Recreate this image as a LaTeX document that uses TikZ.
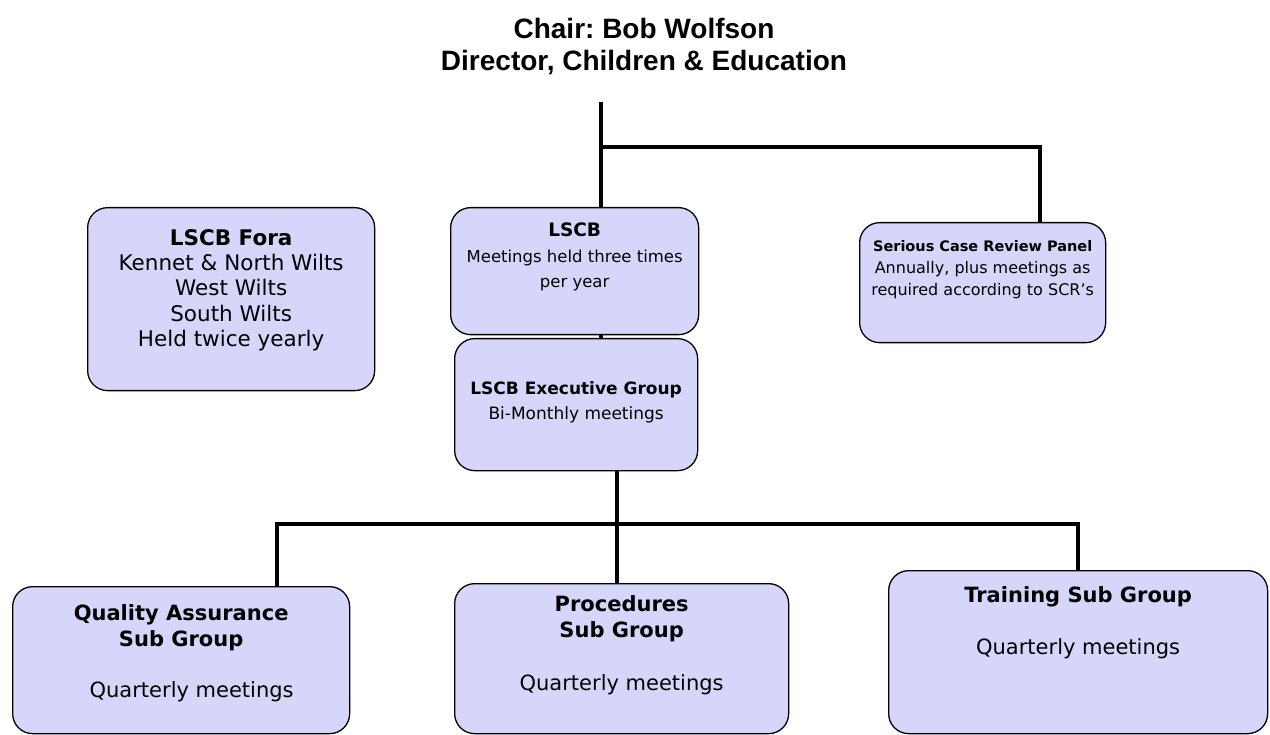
\documentclass[tikz,border=0pt]{standalone}
\usepackage{fontspec}
\setmainfont{DejaVu Sans}
\newfontfamily\titlefont{Liberation Sans}
\definecolor{boxfill}{RGB}{214,214,250}
\frenchspacing
\begin{document}
\begin{tikzpicture}[x=1pt, y=-1pt,
    grp/.style={draw, fill=boxfill, line width=1.3pt, rounded corners=20pt, inner sep=0pt, anchor=north west},
    txt/.style={align=center, inner sep=0pt, anchor=north},
    link/.style={line width=4.8pt}]
    \useasboundingbox (0,0) rectangle (1270,735);

    % Titulo
    \node (title) [align=center, font=\titlefont\bfseries\fontsize{28}{32}\selectfont] at (644,47)
    {Chair: Bob Wolfson\\Director, Children \& Education};

    % Cajas
    \node (fora) [grp, minimum width=287pt, minimum height=183pt] at (87,207) {};
    \node (lscb) [grp, minimum width=248pt, minimum height=127pt] at (450,207) {};
    \node (scr) [grp, minimum width=246pt, minimum height=120pt] at (859,222) {};
    \node (exec) [grp, minimum width=243pt, minimum height=132pt] at (454,338) {};
    \node (qa) [grp, minimum width=337pt, minimum height=147pt] at (12,586) {};
    \node (proc) [grp, minimum width=334pt, minimum height=150pt] at (454,583) {};
    \node (train) [grp, minimum width=379pt, minimum height=163pt] at (888,570) {};

    % Textos
    \node (foratxt) [txt, font=\fontsize{21.5}{25.3}\selectfont] at (fora.north |- 0,229)
    {\textbf{LSCB Fora}\\Kennet \& North Wilts\\West Wilts\\South Wilts\\Held twice yearly};
    \node (lscbtxt) [txt, font=\fontsize{16.5}{25.5}\selectfont] at (lscb.north |- 0,223)
    {\textbf{\fontsize{18.5}{25.5}\selectfont LSCB}\\Meetings held three times\\per year};
    \node (scrtxt) [txt, font=\fontsize{16}{22}\selectfont] at (scr.north |- 0,240)
    {\textbf{\fontsize{14.5}{22}\selectfont Serious Case Review Panel}\\Annually, plus meetings as\\required according to SCR’s};
    \node (exectxt) [txt, font=\fontsize{17}{25}\selectfont] at (exec.north |- 0,381)
    {\textbf{LSCB Executive Group}\\Bi-Monthly meetings};
    \node (qatxt) [txt, font=\fontsize{21}{26}\selectfont] at (qa.north |- 0,604)
    {\textbf{Quality Assurance}\\\textbf{Sub Group}\\[25pt]\hspace*{21pt}Quarterly meetings};
    \node (proctxt) [txt, font=\fontsize{21}{26}\selectfont] at (proc.north |- 0,595)
    {\textbf{Procedures}\\\textbf{Sub Group}\\[27pt]Quarterly meetings};
    \node (traintxt) [txt, font=\fontsize{21}{26}\selectfont] at (train.north |- 0,586)
    {\textbf{Training Sub Group}\\[26pt]Quarterly meetings};

    % Lineas
    \coordinate (top) at (601,102);
    \coordinate (scrjoin) at (1040,147);
    \coordinate (mid) at (617,524);
    \draw[link] (top) -- (top |- lscb.north);
    \draw[link] (top |- scrjoin) -- (scrjoin) -- (scrjoin |- scr.north);
    \draw[link] (top |- lscb.south) -- (top |- exec.north);
    \draw[link] (mid |- exec.south) -- (mid |- proc.north);
    \draw[link] (qa.north -| 277,0) -- (277,524) -- (1078,524) -- (train.north -| 1078,0);
\end{tikzpicture}
\end{document}
